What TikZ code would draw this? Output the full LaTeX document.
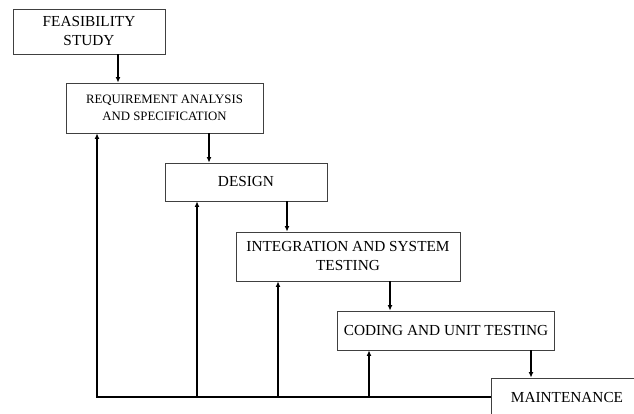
\documentclass[tikz,border=0pt]{standalone}
\usepackage{fontspec}
\setmainfont{Liberation Serif}
\usetikzlibrary{arrows.meta}
\begin{document}
\begin{tikzpicture}[x=1pt,y=-1pt,
  box/.style={draw=black!75, line width=0.9pt, align=center, inner sep=0pt, font=\fontsize{15.3}{19}\selectfont},
  smallbox/.style={box, font=\fontsize{12.8}{17}\selectfont},
  arr/.style={line width=1.4pt, -{Latex[length=5.5pt,width=5pt]}},
  bus/.style={line width=1.4pt}]
\useasboundingbox (0,0) rectangle (634,414);
\clip (0,0) rectangle (634,414);
\fill[white] (0,0) rectangle (634,414);

\node[box, minimum width=152pt, minimum height=45pt] (feas) at (89,31.5) {FEASIBILITY\\STUDY};
\node[smallbox, minimum width=197pt, minimum height=50pt] (req) at (164.5,108) {REQUIREMENT ANALYSIS\\AND SPECIFICATION};
\node[box, minimum width=162pt, minimum height=38pt] (design) at (246,182) {DESIGN};
\node[box, minimum width=224pt, minimum height=49pt] (integ) at (348,256.5) {INTEGRATION AND SYSTEM\\TESTING};
\node[box, minimum width=217pt, minimum height=39pt] (coding) at (446,330.5) {CODING AND UNIT TESTING};
\node[box, minimum width=152pt, minimum height=40pt] (maint) at (567,398) {MAINTENANCE};

% forward flow
\draw[arr] ([xshift=29pt]feas.south) -- ([xshift=29pt]feas.south |- req.north);
\draw[arr] ([xshift=44.5pt]req.south) -- ([xshift=44.5pt]req.south |- design.north);
\draw[arr] ([xshift=41pt]design.south) -- ([xshift=41pt]design.south |- integ.north);
\draw[arr] ([xshift=42pt]integ.south) -- ([xshift=42pt]integ.south |- coding.north);
\draw[arr] ([xshift=85pt]coding.south) -- ([xshift=85pt]coding.south |- maint.north);

% feedback bus
\coordinate (b1) at (97,397);
\coordinate (b2) at (197,397);
\coordinate (b3) at (278,397);
\coordinate (b4) at (369,397);
\draw[arr] (b1 -| maint.west) -- (b1) -- (b1 |- req.south);
\draw[arr] (b2) -- (b2 |- design.south);
\draw[arr] (b3) -- (b3 |- integ.south);
\draw[arr] (b4) -- (b4 |- coding.south);
\end{tikzpicture}
\end{document}
